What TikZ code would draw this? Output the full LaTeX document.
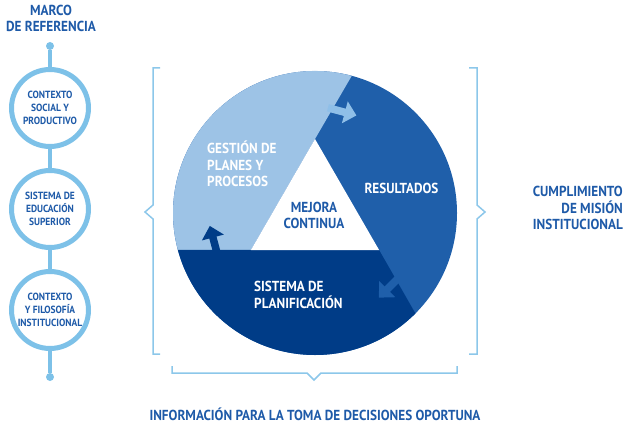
\documentclass[tikz,border=0pt]{standalone}
\usepackage{fontspec}
\newfontfamily\labelfont{PT Sans Bold}[FakeStretch=0.91]
\usetikzlibrary{arrows.meta,calc,positioning}
\definecolor{paleseg}{HTML}{9DC3E6}
\definecolor{midseg}{HTML}{1F5FAA}
\definecolor{deepseg}{HTML}{003C87}
\definecolor{inkblue}{HTML}{1E5AA8}
\definecolor{ringblue}{HTML}{7DC1E8}
\definecolor{bracketblue}{HTML}{8CC7EA}
\definecolor{palearrow}{HTML}{8FBFE8}

\begin{document}
\begin{tikzpicture}[
    x=1pt, y=1pt,
    declare function = {
        wheelr = 142;  trir = 74;
        trackr = 106;
      },
    bignote/.style={font=\labelfont\fontsize{14.5}{16.5}\selectfont, inner sep=0pt},
    smallnote/.style={font=\labelfont\fontsize{10.4}{12.7}\selectfont,
        text=inkblue, align=center},
    ring/.style={circle, draw=ringblue, line width=5pt, fill=white,
        minimum size=77pt, inner sep=0pt},
    knob/.style={circle, fill=ringblue, minimum size=8pt, inner sep=0pt},
    spine/.style={ringblue, line width=4pt},
    bracket/.style={bracketblue, line width=1.5pt},
    turn/.style={line width=7.5pt, -{Triangle[width=22pt,length=12pt]}}
  ]
    \useasboundingbox (0,0) rectangle (636,429);

    % left column
    \node[bignote, text=inkblue, align=center] (marco) at (51,410.5)
    {MARCO\\DE REFERENCIA};
    \node[knob] (knobtop) at (50,383) {};
    \node[ring, smallnote] (ctxsocial) at (50,321)
    {CONTEXTO\\SOCIAL Y\\PRODUCTIVO};
    \node[ring, smallnote] (edusup) at (50,220)
    {SISTEMA DE\\EDUCACIÓN\\SUPERIOR};
    \node[ring, smallnote] (ctxinst) at (50,119)
    {CONTEXTO\\Y FILOSOFÍA\\INSTITUCIONAL};
    \node[knob] (knobbot) at (50,52) {};
    \draw[spine] (knobtop) -- (ctxsocial) -- (edusup) -- (ctxinst) -- (knobbot);

    % wheel
    \coordinate (O) at (315,216);
    \coordinate (apex) at ($(O)+(90:trir)$);
    \coordinate (bl) at ($(O)+(210:trir)$);
    \coordinate (br) at ($(O)+(330:trir)$);
    \fill[midseg] (O) circle[radius=wheelr];
    \fill[paleseg] (apex) -- ($(O)+(75:wheelr)$)
    arc[start angle=75, end angle=195, radius=wheelr] -- (bl) -- cycle;
    \fill[deepseg] (br) -- ($(O)+(-45:wheelr)$)
    arc[start angle=-45, end angle=-165, radius=wheelr] -- (bl) -- cycle;
    \fill[white] (apex) -- (bl) -- (br) -- cycle;
    \foreach \ang/\col in {75/palearrow, 195/deepseg, 315/midseg}
    \draw[turn, \col] ($(O)+(\ang+8:trackr)$) -- ($(O)+(\ang-8:trackr)$);

    \node[bignote, text=white, align=left, anchor=west] (gestion) at (207,265)
    {GESTIÓN DE\\PLANES Y\\PROCESOS};
    \node[bignote, text=white] (result) at (401.5,241) {RESULTADOS};
    \node[bignote, text=inkblue, align=center] (mejora) at (314,213.5)
    {MEJORA\\CONTINUA};
    \node[bignote, text=white, align=left, anchor=west] (planif) at (254,134)
    {SISTEMA DE\\PLANIFICACIÓN};

    % brackets
    \draw[bracket] (160,361) -- (153,361) -- (153,224) -- (145,217)
    -- (153,210) -- (153,75) -- (160,75);
    \draw[bracket] (469,361) -- (477,361) -- (477,224) -- (485,217)
    -- (477,210) -- (477,75) -- (469,75);
    \draw[bracket] (172,63) -- (172,56) -- (307,56) -- (314,49)
    -- (321,56) -- (457,56) -- (457,63);

    \node[bignote, text=inkblue, align=right, anchor=east] (mision) at (623,221)
    {CUMPLIMIENTO\\DE MISIÓN\\INSTITUCIONAL};
    \node[bignote, text=inkblue] (info) at (315,15)
    {INFORMACIÓN PARA LA TOMA DE DECISIONES OPORTUNA};
  \end{tikzpicture}
\end{document}
